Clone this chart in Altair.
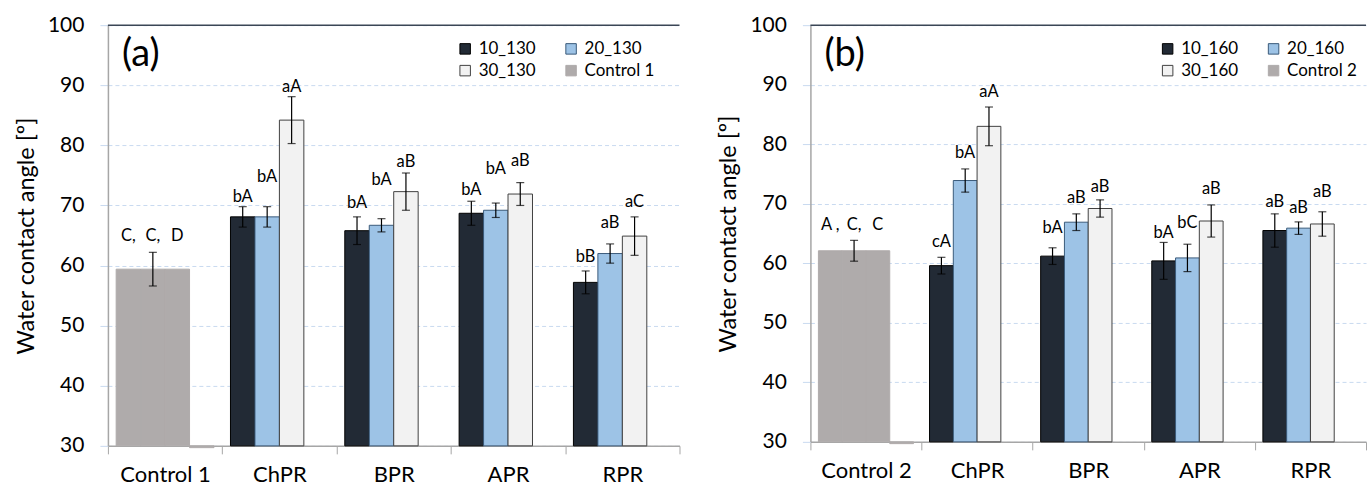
import altair as alt
import pandas as pd

# ---------------- data ----------------
cats_a = ["Control 1", "ChPR", "BPR", "APR", "RPR"]
cats_b = ["Control 2", "ChPR", "BPR", "APR", "RPR"]
series_a = ["10_130", "20_130", "30_130", "Control 1"]
series_b = ["10_160", "20_160", "30_160", "Control 2"]

# panel (a): treatments ChPR, BPR, APR, RPR
mean_a = {
    "10_130": [68.1, 65.8, 68.7, 57.2],
    "20_130": [68.1, 66.7, 69.2, 62.0],
    "30_130": [84.2, 72.3, 71.9, 64.9],
}
err_a = {
    "10_130": [1.7, 2.3, 2.0, 1.9],
    "20_130": [1.7, 1.1, 1.2, 1.6],
    "30_130": [3.9, 3.1, 1.9, 3.2],
}
lab_a = {
    "10_130": ["bA", "bA", "bA", "bB"],
    "20_130": ["bA", "bA", "bA", "aB"],
    "30_130": ["aA", "aB", "aB", "aC"],
}
laby_a = {
    "10_130": [71.4, 70.4, 72.6, 61.4],
    "20_130": [74.7, 74.2, 76.0, 67.0],
    "30_130": [89.7, 77.3, 77.4, 70.5],
}
ctrl_a = 59.4
ctrl_err_a = 2.8
ctrl_labels_a = ["C,", "C,", "D"]
ctrl_laby_a = 64.9

# panel (b)
mean_b = {
    "10_160": [59.6, 61.2, 60.4, 65.5],
    "20_160": [73.9, 66.9, 60.9, 65.9],
    "30_160": [83.0, 69.2, 67.1, 66.6],
}
err_b = {
    "10_160": [1.4, 1.4, 3.1, 2.8],
    "20_160": [1.95, 1.4, 2.3, 1.05],
    "30_160": [3.25, 1.45, 2.7, 2.05],
}
lab_b = {
    "10_160": ["cA", "bA", "bA", "aB"],
    "20_160": ["bA", "aB", "bC", "aB"],
    "30_160": ["aA", "aB", "aB", "aB"],
}
laby_b = {
    "10_160": [63.6, 65.9, 65.1, 70.3],
    "20_160": [78.6, 70.9, 66.7, 69.3],
    "30_160": [88.7, 72.8, 72.4, 72.0],
}
ctrl_b = 62.1
ctrl_err_b = 1.75
ctrl_labels_b = ["A ,", "C,", "C"]
ctrl_laby_b = 66.4

# sliver of the empty control slot drawn just under the axis
ctrl_sliver = 29.7

fills = ["#222a35", "#9dc3e6", "#f2f2f2", "#afabab"]
strokes = ["#000000", "#3a5a7a", "#404040", "#afabab"]

FONT = "Lato"


def panel(cats, series, mean, err, lab, laby, ctrl, ctrl_err, ctrl_labels,
          ctrl_laby, tag, width, height):
    bars, errs, caps, labels = [], [], [], []
    for k, s in enumerate(series[:3]):
        for i, c in enumerate(cats[1:]):
            m, e = mean[s][i], err[s][i]
            bars.append(dict(cat=c, slot=k, series=s, value=m))
            errs.append(dict(cat=c, slot=k, value=m - e, hi=m + e))
            caps.append(dict(cat=c, slot=k, value=m - e))
            caps.append(dict(cat=c, slot=k, value=m + e))
            labels.append(dict(cat=c, slot=k, value=laby[s][i], txt=lab[s][i]))
    for k in range(3):
        bars.append(dict(cat=cats[0], slot=k, series=series[3], value=ctrl))
        labels.append(dict(cat=cats[0], slot=k, value=ctrl_laby, txt=ctrl_labels[k]))
    bars.append(dict(cat=cats[0], slot=3, series=series[3], value=ctrl_sliver))
    errs.append(dict(cat=cats[0], slot=1, value=ctrl - ctrl_err, hi=ctrl + ctrl_err))
    caps.append(dict(cat=cats[0], slot=1, value=ctrl - ctrl_err))
    caps.append(dict(cat=cats[0], slot=1, value=ctrl + ctrl_err))

    xaxis = alt.Axis(title=None, labelAngle=0, labelFontSize=22, labelFont=FONT,
                     labelColor="black", labelPadding=11, tickBand="extent",
                     tickSize=8, tickColor="#a6a6a6", domainColor="#a6a6a6",
                     domainWidth=1.5, grid=False)
    xscale = alt.Scale(domain=cats, paddingInner=0, paddingOuter=0)
    xoscale = alt.Scale(domain=[0, 1, 2, 3], paddingInner=0, paddingOuter=0.337)
    yscale = alt.Scale(domain=[30, 100], zero=False, nice=False)
    yaxis = alt.Axis(title="Water contact angle [º]", values=list(range(30, 101, 10)),
                     labelFontSize=21, labelFont=FONT, labelColor="black",
                     titleFontSize=23.5, titleFont=FONT, titleFontWeight="normal",
                     titleColor="black", titlePadding=9, labelPadding=16,
                     tickSize=8, tickColor="#c9daf0", domainColor="#a6a6a6",
                     domainWidth=1.5, grid=True, gridColor="#c9daf0",
                     gridDash=[4, 3], gridWidth=1)

    def X():
        return alt.X("cat:N", sort=cats, scale=xscale, axis=xaxis)

    def XO():
        return alt.XOffset("slot:O", scale=xoscale)

    def Y():
        return alt.Y("value:Q", scale=yscale, axis=yaxis)

    leg = alt.Legend(title=None, orient="none", legendX=349, legendY=15, columns=2,
                     direction="horizontal",
                     symbolType="square", symbolSize=110, labelFontSize=17,
                     labelFont=FONT, labelColor="black", columnPadding=26,
                     rowPadding=4, symbolStrokeWidth=1, labelOffset=5)

    bar_layer = alt.Chart(pd.DataFrame(bars)).mark_bar(strokeWidth=1).encode(
        x=X(), xOffset=XO(), y=Y(), y2=alt.datum(30),
        fill=alt.Fill("series:N", scale=alt.Scale(domain=series, range=fills), legend=leg),
        stroke=alt.Stroke("series:N", scale=alt.Scale(domain=series, range=strokes), legend=leg),
    )
    top_rule = alt.Chart(pd.DataFrame({"value": [100]})).mark_rule(
        color="#3b4656", strokeWidth=1.5).encode(y=Y())
    err_layer = alt.Chart(pd.DataFrame(errs)).mark_rule(color="black", strokeWidth=1.2).encode(
        x=X(), xOffset=XO(), y=Y(), y2="hi:Q")
    cap_layer = alt.Chart(pd.DataFrame(caps)).mark_tick(
        color="black", size=8, thickness=1.2).encode(x=X(), xOffset=XO(), y=Y())
    lab_layer = alt.Chart(pd.DataFrame(labels)).mark_text(
        fontSize=16.5, font=FONT, color="black", align="center", baseline="middle").encode(
        x=X(), xOffset=XO(), y=Y(), text="txt:N")
    tag_layer = alt.Chart(pd.DataFrame({"t": [tag]})).mark_text(
        fontSize=38, font=FONT, color="black", align="left", baseline="middle").encode(
        x=alt.value(14), y=alt.value(30), text="t:N")

    return alt.layer(bar_layer, top_rule, err_layer, cap_layer, lab_layer, tag_layer).properties(
        width=width, height=height)


pa = panel(cats_a, series_a, mean_a, err_a, lab_a, laby_a, ctrl_a, ctrl_err_a,
           ctrl_labels_a, ctrl_laby_a, "(a)", 572, 421)
pb = panel(cats_b, series_b, mean_b, err_b, lab_b, laby_b, ctrl_b, ctrl_err_b,
           ctrl_labels_b, ctrl_laby_b, "(b)", 556, 417)

chart = alt.hconcat(pa, pb, spacing=36).resolve_scale(
    x="independent", y="independent", xOffset="independent",
    fill="independent", stroke="independent",
).resolve_legend(fill="independent", stroke="independent").properties(
    padding={"left": 14, "top": 14, "right": 0, "bottom": 0}
).configure(font=FONT).configure_view(strokeWidth=0)

chart.save("out.html", embed_options={"renderer": "svg", "actions": False})
